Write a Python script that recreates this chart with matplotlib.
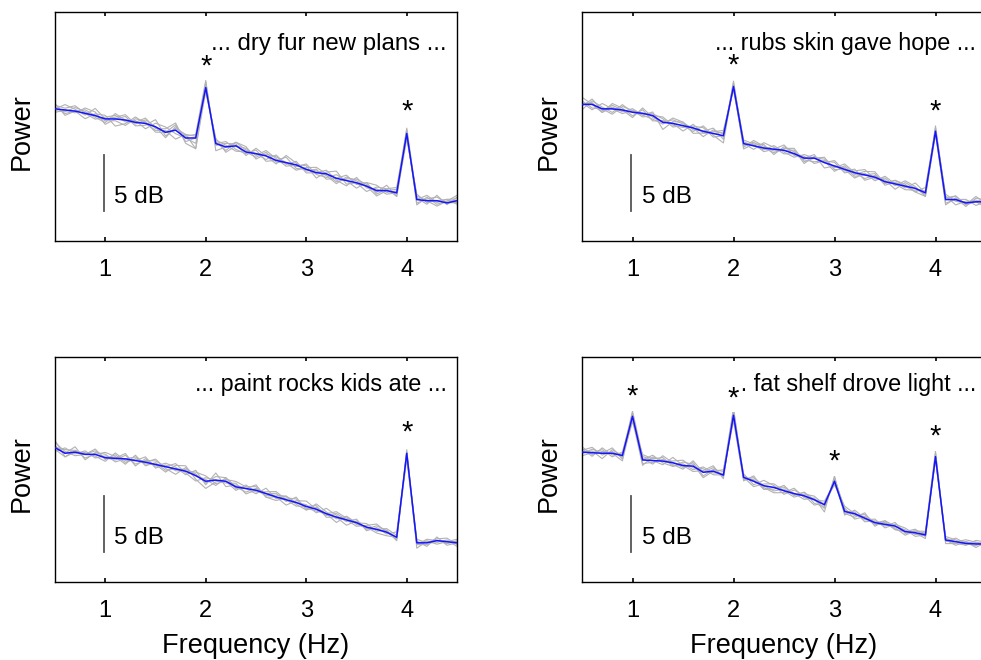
import matplotlib
matplotlib.use('Agg')
import matplotlib.pyplot as plt
import matplotlib.transforms as mtransforms
import numpy as np

plt.rcParams['font.family'] = ['Liberation Sans', 'DejaVu Sans']

# ---------------- data ----------------
freqs = np.linspace(0.5, 4.5, 41)   # Hz, 0.1 Hz bins
xticks = [1, 2, 3, 4]
xtick_labels = ['1', '2', '3', '4']

labels = ['... dry fur new plans ...', '... rubs skin gave hope ...',
          '... paint rocks kids ate ...', '... fat shelf drove light ...']

# group-mean spectra (dB, relative)
mean_tl = [11.8, 11.7, 11.6, 11.4, 11.2, 10.9, 10.9, 10.8, 10.6, 10.5,
           10.2, 9.7, 9.9, 9.2, 9.2, 13.7, 8.7, 8.4, 8.5, 7.95,
           7.8, 7.6, 7.2, 7.0, 6.8, 6.4, 6.1, 6.0, 5.6, 5.4,
           5.2, 4.9, 4.5, 4.5, 4.3, 9.6, 3.7, 3.6, 3.6, 3.4,
           3.6]
mean_tr = [12.2, 12.2, 11.8, 11.8, 11.7, 11.5, 11.4, 11.2, 10.6, 10.5,
           10.3, 10.1, 9.8, 9.6, 9.4, 13.8, 8.7, 8.5, 8.3, 8.2,
           8.1, 7.8, 7.4, 7.4, 7.0, 6.7, 6.4, 6.1, 5.9, 5.7,
           5.3, 5.1, 4.9, 4.7, 4.3, 9.8, 3.7, 3.7, 3.4, 3.5,
           3.5]
mean_bl = [12.0, 11.5, 11.6, 11.4, 11.4, 11.1, 11.05, 11.0, 10.85, 10.7,
           10.5, 10.3, 10.1, 9.9, 9.5, 9.0, 9.1, 9.0, 8.5, 8.35,
           8.2, 7.9, 7.6, 7.35, 7.1, 6.75, 6.5, 6.1, 5.8, 5.55,
           5.3, 4.9, 4.7, 4.45, 4.0, 11.5, 3.5, 3.5, 3.7, 3.6,
           3.5]
mean_br = [11.6, 11.55, 11.5, 11.5, 11.3, 14.8, 10.9, 10.85, 10.8, 10.65,
           10.4, 10.35, 9.8, 9.9, 9.55, 14.9, 9.35, 9.0, 8.6, 8.45,
           8.15, 7.9, 7.7, 7.35, 6.9, 9.0, 6.3, 6.1, 5.7, 5.3,
           5.15, 5.0, 4.5, 4.4, 4.2, 11.2, 3.75, 3.6, 3.45, 3.4,
           3.4]

# individual-subject offsets from the mean (units of 0.16 dB)
dev_unit_db = 0.16
subj_tl = [
    [2, 1, 3, 0, -2, 1, 2, -1, 0, 3, -1, 2, 4, -3, -6, 3, -1, 2, 1, -2, 3, 0, -2, 4, 1, -1, 2, -3, 0, 3, -1, 2, -2, 1, 3, 2, -2, 1, 2, 0, -1],
    [-2, 0, -1, 3, 2, -3, 0, 2, -2, -1, 4, -2, 1, 2, 1, -2, 3, -3, 0, 2, -1, 3, 1, -2, 0, 2, -3, 1, 4, -2, 0, -3, 2, 1, -2, -3, 3, -1, 0, 2, 1],
    [1, -2, 0, -3, 1, 2, -4, -2, 3, 0, -2, 1, -5, 2, -6, -2, 2, 1, -3, 0, -2, 2, -1, 0, -3, 1, 3, 0, -2, 1, 2, 1, -1, 3, -2, 1, -3, 2, -2, 1, 0],
    [0, 3, 1, -1, 4, 0, 1, 3, -1, 2, 0, -3, 2, 1, 2, 4, -4, 0, 2, 1, 0, -2, 3, -1, 2, -2, 0, 2, -1, -3, 3, -1, 1, -2, 0, 3, 1, -2, 3, -1, 2],
    [-1, -1, 2, 1, -1, -2, 3, 0, 1, -3, 2, 3, -2, 0, -3, 0, 1, -2, 2, 3, -3, 1, 2, 0, -1, 3, -1, -2, 2, 0, -3, 2, 3, -1, 1, -1, 0, 3, -1, 2, -2],
    [3, -3, 0, 2, 0, -1, -1, -3, 2, 1, -3, 0, 3, -2, 0, 2, 0, 3, -2, -1, 2, -3, 0, 3, -2, 0, 1, -1, -3, 2, 1, 0, -3, 0, 2, -2, 2, 0, -3, 1, 3],
]
subj_tr = [
    [-3, 2, 1, -2, 3, 0, -1, 2, -4, 1, 2, -1, 0, 3, -2, 3, -1, 2, 0, -2, 1, 3, -2, 0, 2, -1, 3, 0, -2, 1, -1, 2, 0, -2, 3, 1, 2, -3, 1, 0, 2],
    [4, 0, -2, 3, 1, -2, 2, -3, 1, 0, -3, 2, -1, 1, 3, -2, 0, -2, 3, 1, -2, 0, 1, -3, 1, 2, -2, 1, 3, -1, 2, -1, 3, 1, -2, -2, 0, 2, -1, 3, -1],
    [1, -3, 3, 0, -2, 1, 0, 1, 2, -2, 0, -2, 3, -1, -4, 1, 2, 1, -2, 0, 3, -1, 0, 2, -3, 0, 1, -2, 0, 2, -2, 1, -1, 3, 0, 2, -2, 0, 2, -2, 0],
    [-1, 3, -1, 2, 0, -3, 3, -1, 0, 2, 1, 0, -3, 2, 1, -1, -2, 3, 1, -1, 0, 2, -3, 1, 0, 3, -1, 2, -3, 0, 1, -3, 2, 0, -1, 0, 3, -1, 0, 1, -2],
    [2, -2, 0, -3, 2, 1, -2, 0, 3, -1, -1, 1, 2, -2, 0, 2, 1, 0, -1, 2, -1, -2, 2, 0, 3, -2, 0, -3, 1, -2, 3, 0, -2, -1, 1, -1, -3, 1, -2, 2, 1],
    [0, 1, -2, 1, -1, 2, -1, -2, -1, 3, 2, -3, -1, 0, 2, 0, -3, 1, 2, -3, 2, 1, -1, -2, 1, -3, 2, -1, 2, 3, -1, 2, 1, -2, -2, 3, 1, 2, -1, 0, -3],
]
subj_bl = [
    [4, -2, 1, 0, 3, -1, 2, -2, 1, 0, 3, -1, -3, 2, 0, 1, -3, 2, 0, -2, 1, 0, 2, -1, 3, -2, 1, 0, -3, 2, 0, 2, -1, 1, -2, 2, -1, 2, 0, -1, 1],
    [-2, 3, -1, 2, -2, 1, 0, 3, -3, 2, -1, 2, 1, -2, 3, -2, 4, -3, 1, 0, -2, 3, -1, 2, 0, 1, -2, 3, 1, -1, 2, -2, 1, -1, 3, -2, 2, 0, 1, 2, -1],
    [1, 0, 3, -3, 1, 2, -2, 0, 2, -1, 0, -3, 2, 3, -2, -4, -1, 1, 3, 1, 2, -2, 0, -3, 1, 3, 0, -1, 2, 0, -2, 1, 3, 0, -1, 1, -3, 1, -2, 0, 2],
    [-1, -2, 0, 1, -1, -2, 3, -1, 0, 3, -2, 1, -1, 0, 2, 3, -2, 0, -2, 2, -1, 1, 3, 0, -2, 0, 2, -2, 0, -3, 1, -1, 0, 2, 1, -1, 1, -2, 2, -2, 0],
    [3, 1, -2, 0, 2, 0, -1, 2, -2, 1, 2, 0, 3, -1, -3, 2, 0, -1, 2, -3, 0, -1, 1, 2, -1, -2, 3, 1, -1, 2, -1, 0, -2, -2, 0, 0, 0, 1, -1, 1, -2],
    [0, 2, 1, -2, 0, 3, 1, -3, 3, -2, 1, -2, 0, 1, 1, -1, 2, 2, -1, 0, 3, -2, -2, 1, 2, -1, -1, 0, 3, 1, 0, -1, 2, 1, -1, -3, -1, -1, 0, -1, 1],
]
subj_br = [
    [-1, 2, 0, 3, -2, 2, 1, -2, 3, 0, -1, 2, -2, 1, 2, 4, -1, 2, 0, -2, 1, -1, 2, 0, -2, 2, 1, -1, 2, 0, 1, -2, 0, 2, -1, 2, 0, -1, 1, 0, -1],
    [2, -2, 3, -1, 1, -2, -3, 2, 0, 1, 3, -1, 2, -2, 0, -1, 2, -2, 3, 1, -2, 2, 0, -3, 1, -2, 3, 0, -1, 2, -2, 1, 2, -1, 1, -1, 2, 1, -1, 2, 1],
    [0, 1, -3, 2, 0, 3, 2, 0, -2, 3, 0, -3, 1, 3, -2, 2, -1, 1, -2, 0, 2, 0, -2, 1, -4, 3, -2, 2, 0, -1, 0, -1, -2, 1, 2, 3, -1, 2, 0, -1, 2],
    [3, -1, 1, 0, -3, -1, 0, 3, -1, -2, 2, 1, -3, 0, 3, -2, 0, -3, 1, 2, 0, -2, 1, 2, 0, 0, -1, -2, 3, -2, 2, 0, 1, -2, 0, -2, 1, 0, 2, 1, -2],
    [-2, 0, 2, -2, 2, 1, -2, -1, 1, -1, -2, 3, 0, 2, -1, 3, 1, 0, -1, -3, -1, 3, -1, 0, 2, -1, 0, 1, -2, 1, -1, 2, -1, 0, -2, 1, -2, -1, -1, 1, 0],
    [1, 3, -1, 1, -1, -3, 3, 1, 2, -2, 1, -2, 3, -1, 1, -3, -2, 3, -2, -1, 3, -1, 2, -2, -1, 1, 2, -3, 1, 0, 2, -2, 0, 1, 1, -1, 0, -2, 1, -2, 1],
]

# significance markers: frequency and height (dB, glyph centre)
stars_tl_f, stars_tl_y = [2, 4], [16.0, 12.0]
stars_tr_f, stars_tr_y = [2, 4], [16.1, 12.0]
stars_bl_f, stars_bl_y = [4], [13.8]
stars_br_f, stars_br_y = [1, 2, 3, 4], [17.0, 16.85, 11.2, 13.4]

# ---------------- layout ----------------
W, H = 981, 660
fig = plt.figure(figsize=(W / 100, H / 100), dpi=100)

def rect(x0, y0, x1, y1):
    return [x0 / W, 1 - y1 / H, (x1 - x0) / W, (y1 - y0) / H]

panels = [
    dict(rect=rect(55, 12, 457, 241), mean=mean_tl, subj=subj_tl, label=labels[0],
         sf=stars_tl_f, sy=stars_tl_y, ytop=20.45, xlab=False, lfs=17.3, mask=False),
    dict(rect=rect(582, 12, 986, 241), mean=mean_tr, subj=subj_tr, label=labels[1],
         sf=stars_tr_f, sy=stars_tr_y, ytop=20.45, xlab=False, lfs=16.8, mask=False),
    dict(rect=rect(55, 357, 457, 582), mean=mean_bl, subj=subj_bl, label=labels[2],
         sf=stars_bl_f, sy=stars_bl_y, ytop=20.1, xlab=True, lfs=16.8, mask=False),
    dict(rect=rect(582, 357, 986, 582), mean=mean_br, subj=subj_br, label=labels[3],
         sf=stars_br_f, sy=stars_br_y, ytop=20.1, xlab=True, lfs=16.8, mask=True),
]

for p in panels:
    ax = fig.add_axes(p['rect'])
    mean = np.array(p['mean'])
    for dev in p['subj']:
        ax.plot(freqs, mean + np.array(dev) * dev_unit_db, color='#b2b2b2', lw=0.8, zorder=2)
    ax.plot(freqs, mean, color='#1414ff', lw=1.1, zorder=3)

    ax.text(4.4, 17.6, p['label'], fontsize=p['lfs'], ha='right', va='center', zorder=4)

    # asterisk glyph sits high in its box: shift the box down so the glyph centre is at y
    star_tr = mtransforms.offset_copy(ax.transData, fig=fig, x=0, y=-5, units='dots')
    for f, y in zip(p['sf'], p['sy']):
        kw = {}
        if p['mask']:
            kw['bbox'] = dict(facecolor='white', edgecolor='none', pad=0.0)
        ax.text(f, y, '*', fontsize=21, ha='center', va='center', zorder=6,
                transform=star_tr, **kw)

    # 5 dB scale bar
    ax.plot([0.99, 0.99], [2.65, 7.65], color='#555555', lw=1.3, zorder=3)
    ax.text(1.09, 3.9, '5 dB', fontsize=17.5, ha='left', va='center')

    ax.set_xlim(0.5, 4.5)
    ax.set_ylim(0, p['ytop'])
    ax.set_xticks(xticks)
    ax.set_xticklabels(xtick_labels)
    ax.set_yticks([])
    ax.tick_params(axis='x', direction='in', top=True, length=3, width=1.2,
                   labelsize=17, pad=13)
    for s in ax.spines.values():
        s.set_linewidth(1.0)

    ax.set_ylabel('Power', fontsize=19.5)
    ax.yaxis.label.set_va('center')
    ax.yaxis.set_label_coords(-0.083, 0.48)
    if p['xlab']:
        ax.set_xlabel('Frequency (Hz)', fontsize=19.5)
        ax.xaxis.label.set_va('center')
        ax.xaxis.set_label_coords(0.5, -0.285)

fig.savefig('out.png', dpi=100)
